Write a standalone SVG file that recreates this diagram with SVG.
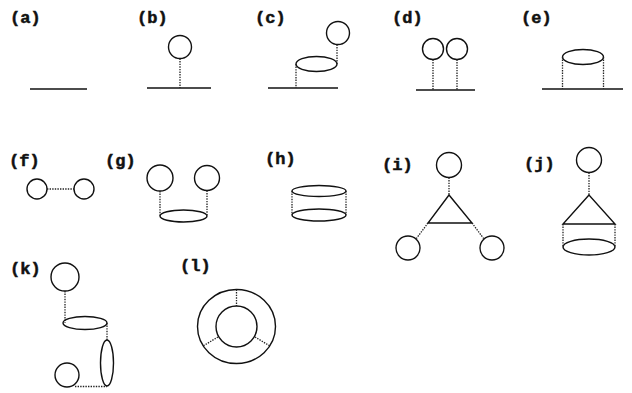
<svg xmlns="http://www.w3.org/2000/svg" width="632" height="393" viewBox="0 0 632 393">
  <style>
    .lbl { font-family: "Liberation Mono", "DejaVu Sans Mono", monospace; font-weight: bold; font-size: 17px; fill: #111; stroke: #111; stroke-width: 0.5; }
    .solid { fill: none; stroke: #111; stroke-width: 1.4; }
    .dot { fill: none; stroke: #222; stroke-width: 1.3; stroke-dasharray: 1.4 1.2; }
  </style>
  <rect width="632" height="393" fill="#fff"/>

  <!-- (a) bare line -->
  <g id="a">
    <text class="lbl" x="10" y="23">(a)</text>
    <line class="solid" x1="30" y1="89" x2="87" y2="89"/>
  </g>

  <!-- (b) loop on a stalk -->
  <g id="b">
    <text class="lbl" x="137" y="23">(b)</text>
    <line class="solid" x1="147" y1="88" x2="211" y2="88"/>
    <circle class="solid" cx="180" cy="47" r="11.5"/>
    <line class="dot" x1="180" y1="58.5" x2="180" y2="88"/>
  </g>

  <!-- (c) loop on ellipse on stalk -->
  <g id="c">
    <text class="lbl" x="255" y="23">(c)</text>
    <line class="solid" x1="268" y1="88" x2="338" y2="88"/>
    <ellipse class="solid" cx="316.5" cy="64" rx="20.5" ry="7.5"/>
    <circle class="solid" cx="338" cy="33" r="11.5"/>
    <line class="dot" x1="337" y1="44.5" x2="337" y2="64"/>
    <line class="dot" x1="296" y1="64" x2="296" y2="88"/>
  </g>

  <!-- (d) two loops on stalks -->
  <g id="d">
    <text class="lbl" x="392" y="23">(d)</text>
    <line class="solid" x1="416" y1="90" x2="475" y2="90"/>
    <circle class="solid" cx="433" cy="49" r="10.5"/>
    <circle class="solid" cx="457" cy="49" r="10.5"/>
    <line class="dot" x1="433" y1="59.5" x2="433" y2="90"/>
    <line class="dot" x1="457" y1="59.5" x2="457" y2="90"/>
  </g>

  <!-- (e) ellipse on two stalks -->
  <g id="e">
    <text class="lbl" x="521" y="23">(e)</text>
    <line class="solid" x1="542" y1="89" x2="623" y2="89"/>
    <ellipse class="solid" cx="583" cy="57" rx="20.5" ry="7.5"/>
    <line class="dot" x1="562.5" y1="57" x2="562.5" y2="89"/>
    <line class="dot" x1="603.5" y1="57" x2="603.5" y2="89"/>
  </g>

  <!-- (f) two loops joined -->
  <g id="f">
    <text class="lbl" x="9" y="166">(f)</text>
    <circle class="solid" cx="37" cy="189" r="10"/>
    <circle class="solid" cx="84" cy="189" r="10"/>
    <line class="dot" x1="47" y1="189" x2="74" y2="189"/>
  </g>

  <!-- (g) two loops over an ellipse -->
  <g id="g">
    <text class="lbl" x="105" y="166">(g)</text>
    <circle class="solid" cx="160" cy="178" r="13"/>
    <circle class="solid" cx="207" cy="178" r="12.5"/>
    <ellipse class="solid" cx="183.5" cy="216" rx="23.5" ry="6"/>
    <line class="dot" x1="160" y1="191" x2="160" y2="216"/>
    <line class="dot" x1="207" y1="190.5" x2="207" y2="216"/>
  </g>

  <!-- (h) cylinder -->
  <g id="h">
    <text class="lbl" x="265" y="164">(h)</text>
    <ellipse class="solid" cx="319" cy="191" rx="27" ry="5.5"/>
    <ellipse class="solid" cx="319" cy="215" rx="27" ry="6"/>
    <line class="dot" x1="292" y1="191" x2="292" y2="215"/>
    <line class="dot" x1="346" y1="191" x2="346" y2="215"/>
  </g>

  <!-- (i) triangle with three loops -->
  <g id="i">
    <text class="lbl" x="382" y="170">(i)</text>
    <circle class="solid" cx="449" cy="165" r="12.5"/>
    <circle class="solid" cx="408" cy="248" r="12"/>
    <circle class="solid" cx="492" cy="248" r="12"/>
    <polygon class="solid" points="449,195 428,223 472,223"/>
    <line class="dot" x1="449" y1="177.5" x2="449" y2="195"/>
    <line class="dot" x1="428" y1="223" x2="416" y2="239"/>
    <line class="dot" x1="472" y1="223" x2="484" y2="239"/>
  </g>

  <!-- (j) loop over triangle over cylinder -->
  <g id="j">
    <text class="lbl" x="524" y="169">(j)</text>
    <circle class="solid" cx="589" cy="160" r="12.5"/>
    <line class="dot" x1="589" y1="172.5" x2="589" y2="195"/>
    <polygon class="solid" points="589,195 563,224 615,224"/>
    <ellipse class="solid" cx="589" cy="247" rx="26" ry="8"/>
    <line class="dot" x1="563" y1="224" x2="563" y2="247"/>
    <line class="dot" x1="615" y1="224" x2="615" y2="247"/>
  </g>

  <!-- (k) chain: loop, ellipse, upright ellipse, loop -->
  <g id="k">
    <text class="lbl" x="10" y="274">(k)</text>
    <circle class="solid" cx="65" cy="277" r="14"/>
    <line class="dot" x1="65" y1="291" x2="65" y2="323"/>
    <ellipse class="solid" cx="85" cy="323" rx="22" ry="6.5"/>
    <line class="dot" x1="107" y1="323" x2="107" y2="340"/>
    <ellipse class="solid" cx="107" cy="363" rx="6.5" ry="23"/>
    <circle class="solid" cx="67" cy="375" r="12"/>
    <line class="dot" x1="75" y1="386.5" x2="107" y2="386.5"/>
  </g>

  <!-- (l) annulus with three spokes -->
  <g id="l">
    <text class="lbl" x="180" y="271">(l)</text>
    <ellipse class="solid" cx="236.5" cy="326.5" rx="39" ry="37"/>
    <circle class="solid" cx="236.5" cy="326.5" r="20.5"/>
    <line class="dot" x1="236.5" y1="289.5" x2="236.5" y2="306"/>
    <line class="dot" x1="218" y1="337" x2="203" y2="346"/>
    <line class="dot" x1="255" y1="337" x2="270" y2="346"/>
  </g>
</svg>
